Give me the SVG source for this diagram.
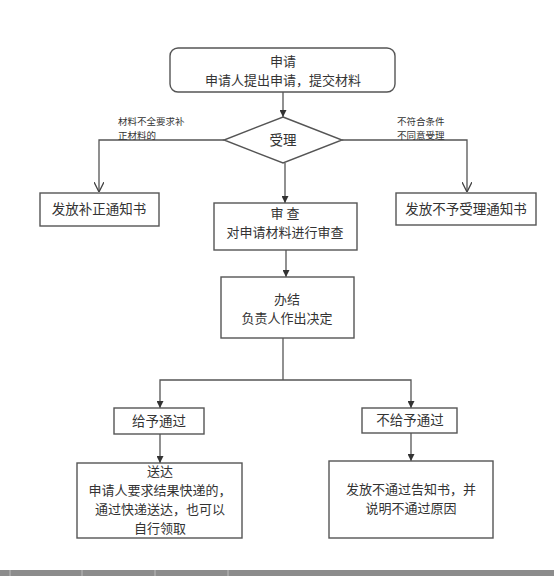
<svg xmlns="http://www.w3.org/2000/svg" width="554" height="576" viewBox="0 0 554 576">
<style>
.box{fill:#fff;stroke:#555;stroke-width:1.4}
.ln{fill:none;stroke:#555;stroke-width:1.3}
.t{font-family:"Noto Sans CJK SC","Liberation Sans",sans-serif;font-size:13.5px;fill:#333;text-anchor:middle}
.t2{font-family:"Noto Sans CJK SC","Liberation Sans",sans-serif;font-size:13px;fill:#333;text-anchor:middle}
.s{font-family:"Noto Sans CJK SC","Liberation Sans",sans-serif;font-size:9.5px;fill:#333}
</style>
<defs>
<marker id="fa" viewBox="0 0 10 10" refX="10" refY="5" markerWidth="7" markerHeight="7" orient="auto" markerUnits="userSpaceOnUse"><path d="M0,0 L10,5 L0,10 z" fill="#333"/></marker>
<marker id="oa" viewBox="0 0 10 10" refX="10" refY="5" markerWidth="10" markerHeight="10" orient="auto" markerUnits="userSpaceOnUse"><path d="M0,0 L10,5 L0,10" fill="none" stroke="#444" stroke-width="1.3"/></marker>
</defs>
<rect width="554" height="576" fill="#fff"/>
<g id="connectors">
<path class="ln" d="M283,92 V117" marker-end="url(#fa)"/>
<path class="ln" d="M224,140 H99 V192" marker-end="url(#oa)"/>
<path class="ln" d="M342,140 H467 V192" marker-end="url(#oa)"/>
<path class="ln" d="M285,163 V203" marker-end="url(#fa)"/>
<path class="ln" d="M286,250 V277" marker-end="url(#fa)"/>
<path class="ln" d="M283,338 V380"/>
<path class="ln" d="M283,380 H160 V408" marker-end="url(#fa)"/>
<path class="ln" d="M283,380 H411 V408" marker-end="url(#fa)"/>
<path class="ln" d="M160,434 V463" marker-end="url(#fa)"/>
<path class="ln" d="M411,433 V461" marker-end="url(#fa)"/>
<text class="s" x="118" y="125">材料不全要求补</text>
<text class="s" x="118" y="138.5">正材料的</text>
<text class="s" x="397" y="125">不符合条件</text>
<text class="s" x="397" y="138.5">不同意受理</text>
</g>
<g id="apply">
<rect class="box" x="170" y="48" width="225" height="44" rx="8"/>
<text class="t2" x="283" y="66">申请</text>
<text class="t2" x="283" y="85">申请人提出申请，提交材料</text>
</g>
<g id="accept">
<path class="box" d="M283,117 L342,140 L283,163 L224,140 z"/>
<text class="t" x="283" y="145">受理</text>
</g>
<g id="correction">
<rect class="box" x="40" y="193" width="119" height="33"/>
<text class="t" x="99" y="214">发放补正通知书</text>
</g>
<g id="reject">
<rect class="box" x="396" y="193" width="140" height="32"/>
<text class="t" x="466" y="214">发放不予受理通知书</text>
</g>
<g id="review">
<rect class="box" x="214" y="203" width="143" height="47"/>
<text class="t2" x="285" y="218">审 查</text>
<text class="t2" x="285" y="237">对申请材料进行审查</text>
</g>
<g id="decide">
<rect class="box" x="221" y="277" width="133" height="61"/>
<text class="t2" x="287" y="304">办结</text>
<text class="t2" x="287" y="323">负责人作出决定</text>
</g>
<g id="pass">
<rect class="box" x="114" y="408" width="90" height="26"/>
<text class="t" x="159" y="426">给予通过</text>
</g>
<g id="nopass">
<rect class="box" x="362" y="408" width="95" height="25"/>
<text class="t" x="410" y="425">不给予通过</text>
</g>
<g id="deliver">
<rect class="box" x="77" y="463" width="165" height="75"/>
<text class="t2" x="160" y="476">送达</text>
<text class="t2" x="160" y="495">申请人要求结果快递的，</text>
<text class="t2" x="160" y="514">通过快递送达，也可以</text>
<text class="t2" x="160" y="533">自行领取</text>
</g>
<g id="notice">
<rect class="box" x="329" y="461" width="164" height="77"/>
<text class="t2" x="411" y="494">发放不通过告知书，并</text>
<text class="t2" x="411" y="513">说明不通过原因</text>
</g>
<g id="strip">
<rect x="0" y="570" width="554" height="6" fill="#8c8c8c"/>
<path d="M10,570 V576 M82,570 V576 M155,570 V576 M228,570 V576" stroke="#bbb" stroke-width="1"/>
</g>
</svg>
